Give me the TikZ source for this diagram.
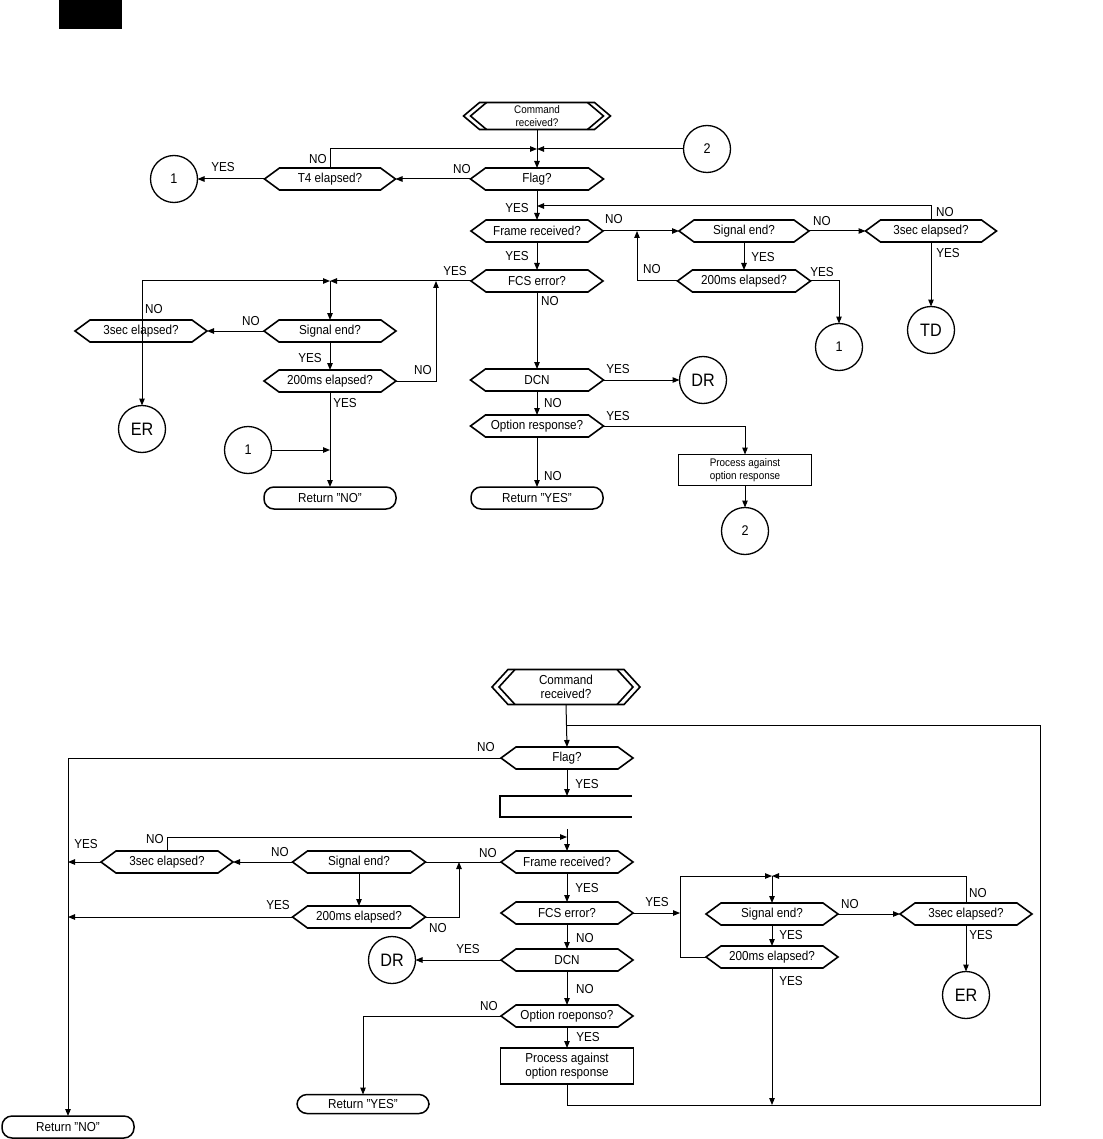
\documentclass[tikz,border=0pt]{standalone}
\usepackage{fontspec}
\setmainfont{Liberation Sans}[FakeStretch=0.9]
\usetikzlibrary{arrows.meta,calc}
\newcommand{\mainf}{\fontsize{13}{14}\selectfont}
\newcommand{\labf}{\fontsize{13}{14}\selectfont}
\newcommand{\smallf}{\fontsize{11}{12.5}\selectfont}
\newcommand{\bigf}{\fontsize{18}{20}\selectfont}
\newcommand{\numf}{\fontsize{14}{16}\selectfont}
\tikzset{
 hexn/.style={draw=none, inner sep=0pt, outer sep=0pt, minimum height=22pt, font=\mainf, align=center},
 shp/.style={line width=1.6pt, line join=miter},
 con/.style={line width=1pt},
 arr/.style={con, -{Triangle[length=7pt,width=5.5pt]}},
 circ/.style={circle, draw, line width=1.3pt, minimum size=47pt, inner sep=0pt, outer sep=0pt, font=\numf},
 lab/.style={font=\labf, inner sep=0pt},
 ret/.style={draw, rounded corners=10pt, line width=1.5pt, minimum width=132pt, minimum height=22pt, inner sep=0pt, outer sep=0pt, font=\mainf},
 proc/.style={draw, line width=1.6pt, inner sep=0pt, outer sep=0pt, align=center}
}
\newcommand{\hexbox}[5][15pt]{%
  \node[hexn,minimum width=#4] (#2) at (#3) {#5};
  \draw[shp] (#2.west) -- ([xshift=#1]#2.north west) -- ([xshift=-#1]#2.north east) -- (#2.east) -- ([xshift=-#1]#2.south east) -- ([xshift=#1]#2.south west) -- cycle;}
\newcommand{\dhex}[6][]{%
  \node[hexn,minimum width=#4,minimum height=#5,#1] (#2) at (#3) {#6};
  \draw[shp] (#2.west) -- ([xshift=16pt]#2.north west) -- ([xshift=-16pt]#2.north east) -- (#2.east) -- ([xshift=-16pt]#2.south east) -- ([xshift=16pt]#2.south west) -- cycle;
  \draw[shp] ([xshift=23pt]#2.north west) -- ([xshift=7pt]#2.west) -- ([xshift=23pt]#2.south west);
  \draw[shp] ([xshift=-23pt]#2.north east) -- ([xshift=-7pt]#2.east) -- ([xshift=-23pt]#2.south east);}
\begin{document}
\begin{tikzpicture}[x=1pt,y=-1pt]
\useasboundingbox (0,0) rectangle (1102,1139);
\fill (59,0) rectangle (122,29);

% ================= TOP CHART =================
\dhex[font=\smallf]{cmdT}{537,116}{147}{27}{Command\\received?}
\hexbox{flagT}{537,179}{133}{Flag?}
\hexbox{tfour}{330,179}{131}{T4 elapsed?}
\hexbox{frameT}{537,231}{132}{Frame received?}
\hexbox{sigR}{744,231}{130}{Signal end?}
\hexbox{secR}{931,231}{131}{3sec elapsed?}
\hexbox{msR}{744,281}{133}{200ms elapsed?}
\hexbox{fcsT}{537,281}{132}{FCS error?}
\hexbox{sigL}{330,331}{132}{Signal end?}
\hexbox{secL}{141,331}{132}{3sec elapsed?}
\hexbox{msL}{330,381}{132}{200ms elapsed?}
\hexbox{dcnT}{537,380}{133}{DCN}
\hexbox{optT}{537,426}{133}{Option response?}
\node[ret] (retNOT) at (330,498) {Return "NO"};
\node[ret] (retYEST) at (537,498) {Return "YES"};
\node[proc, minimum width=133pt, minimum height=31pt, font=\smallf] (procT) at (745,470) {Process against\\option response};

\node[circ] (oneA) at (174,179) {1};
\node[circ] (twoA) at (707,149) {2};
\node[circ] (oneB) at (839,347) {1};
\node[circ,font=\bigf] (tdT) at (931,330) {TD};
\node[circ,font=\bigf] (erT) at (142,429) {ER};
\node[circ] (oneC) at (248,450) {1};
\node[circ,font=\bigf] (drT) at (703,380) {DR};
\node[circ] (twoB) at (745,531) {2};

\coordinate (jT) at (537,149);
\coordinate (jT2) at (537,206);
\coordinate (jT3) at (637,231);
\coordinate (jL) at (330,281);
\coordinate (jL2) at (436,281);
\coordinate (cTL) at (142,281);
\coordinate (jC) at (330,450);

\draw[arr] (cmdT.south) -- (flagT.north);
\draw[arr] (tfour.north) |- (jT);
\draw[arr] (twoA.west) -- (jT);
\draw[arr] (flagT.west) -- (tfour.east);
\draw[arr] (tfour.west) -- (oneA.east);
\draw[arr] (flagT.south) -- (frameT.north);
\draw[arr] (secR.north) |- (jT2);
\draw[arr] (frameT.east) -- (sigR.west);
\draw[arr] (msR.west) -| (jT3);
\draw[arr] (sigR.east) -- (secR.west);
\draw[arr] (secR.south) -- (tdT.north);
\draw[arr] (sigR.south) -- (msR.north);
\draw[arr] (msR.east) -| (oneB.north);
\draw[arr] (frameT.south) -- (fcsT.north);
\draw[arr] (fcsT.west) -- (jL);
\draw[arr] (msL.east) -| (jL2);
\draw[arr] (cTL) -- (jL);
\draw[arr] (cTL) -- (erT.north);
\draw[arr] (jL) -- (sigL.north);
\draw[arr] (sigL.west) -- (secL.east);
\draw[arr] (sigL.south) -- (msL.north);
\draw[arr] (msL.south) -- (retNOT.north);
\draw[arr] (oneC.east) -- (jC);
\draw[arr] (fcsT.south) -- (dcnT.north);
\draw[arr] (dcnT.east) -- (drT.west);
\draw[arr] (dcnT.south) -- (optT.north);
\draw[arr] (optT.east) -| (procT.north);
\draw[arr] (procT.south) -- (twoB.north);
\draw[arr] (optT.south) -- (retYEST.north);

\node[lab] (t1) at (462,169) {NO};
\node[lab] (t2) at (223,167) {YES};
\node[lab] (t3) at (318,159) {NO};
\node[lab] (t4) at (517,208) {YES};
\node[lab] (t5) at (614,219) {NO};
\node[lab] (t6) at (822,221) {NO};
\node[lab] (t7) at (945,212) {NO};
\node[lab] (t8) at (948,253) {YES};
\node[lab] (t9) at (763,257) {YES};
\node[lab] (t10) at (652,269) {NO};
\node[lab] (t11) at (822,272) {YES};
\node[lab] (t12) at (517,256) {YES};
\node[lab] (t13) at (455,271) {YES};
\node[lab] (t14) at (154,309) {NO};
\node[lab] (t15) at (251,321) {NO};
\node[lab] (t16) at (310,358) {YES};
\node[lab] (t17) at (423,370) {NO};
\node[lab] (t18) at (345,403) {YES};
\node[lab] (t19) at (550,301) {NO};
\node[lab] (t20) at (618,369) {YES};
\node[lab] (t21) at (553,403) {NO};
\node[lab] (t22) at (618,416) {YES};
\node[lab] (t23) at (553,476) {NO};

% ================= BOTTOM CHART =================
\dhex{cmdB}{566,687}{148}{35}{Command\\received?}
\hexbox{flagB}{567,758}{132}{Flag?}
\draw[shp] (632,796) -- (500,796) -- (500,817) -- (632,817);
\coordinate (openT) at (567,796);
\hexbox{frameB}{567,862}{132}{Frame received?}
\hexbox{sigBL}{359,862}{133}{Signal end?}
\hexbox{secBL}{167,862}{132}{3sec elapsed?}
\hexbox{msBL}{359,917}{133}{200ms elapsed?}
\hexbox{fcsB}{567,913}{132}{FCS error?}
\hexbox{sigBR}{772,914}{132}{Signal end?}
\hexbox{secBR}{966,914}{132}{3sec elapsed?}
\hexbox{msBR}{772,957}{132}{200ms elapsed?}
\hexbox{dcnB}{567,960}{132}{DCN}
\hexbox{optB}{567,1016}{132}{Option roeponso?}
\node[proc, minimum width=133pt, minimum height=36pt, font=\mainf] (procB) at (567,1066) {Process against\\option response};
\node[ret, minimum height=19pt] (retYESB) at (363,1104) {Return "YES"};
\node[ret] (retNOB) at (68,1127) {Return "NO"};
\node[circ,font=\bigf] (drB) at (392,960) {DR};
\node[circ,font=\bigf] (erB) at (966,995) {ER};

\coordinate (jB0) at (567,725);
\coordinate (cR1) at (1040,1105);
\coordinate (cR2) at (1040,725);
\coordinate (jB1) at (567,837);
\coordinate (jB1t) at (567,829);
\coordinate (jB2) at (459,862);
\coordinate (jB3) at (680,913);
\coordinate (bk1) at (680,876);
\coordinate (jB4) at (772,876);
\coordinate (jB5) at (772,1105);

\draw[arr] (cmdB.south) -- (flagB.north);
\draw[con] (procB.south) |- (cR1) -- (cR2) -- (jB0);
\draw[arr] (flagB.west) -| (retNOB.north);
\draw[arr] (flagB.south) -- (openT);
\draw[arr] (jB1t) -- (frameB.north);
\draw[arr] (secBL.north) |- (jB1);
\draw[con] (frameB.west) -- (sigBL.east);
\draw[arr] (msBL.east) -| (jB2);
\draw[arr] (sigBL.west) -- (secBL.east);
\draw[arr] (secBL.west) -- (secBL.west -| retNOB.north);
\draw[arr] (sigBL.south) -- (msBL.north);
\draw[arr] (msBL.west) -- (msBL.west -| retNOB.north);
\draw[arr] (frameB.south) -- (fcsB.north);
\draw[arr] (fcsB.east) -- (jB3);
\draw[arr] (msBR.west) -| (bk1) -- (jB4);
\draw[arr] (secBR.north) |- (jB4);
\draw[arr] (jB4) -- (sigBR.north);
\draw[arr] (sigBR.east) -- (secBR.west);
\draw[arr] (secBR.south) -- (erB.north);
\draw[arr] (sigBR.south) -- (msBR.north);
\draw[arr] (msBR.south) -- (jB5);
\draw[arr] (fcsB.south) -- (dcnB.north);
\draw[arr] (dcnB.west) -- (drB.east);
\draw[arr] (dcnB.south) -- (optB.north);
\draw[arr] (optB.west) -| (retYESB.north);
\draw[arr] (optB.south) -- (procB.north);

\node[lab] (b1) at (486,747) {NO};
\node[lab] (b2) at (587,784) {YES};
\node[lab] (b3) at (155,839) {NO};
\node[lab] (b4) at (86,844) {YES};
\node[lab] (b5) at (280,852) {NO};
\node[lab] (b6) at (488,853) {NO};
\node[lab] (b7) at (278,905) {YES};
\node[lab] (b8) at (438,928) {NO};
\node[lab] (b9) at (587,888) {YES};
\node[lab] (b10) at (657,902) {YES};
\node[lab] (b11) at (850,904) {NO};
\node[lab] (b12) at (978,893) {NO};
\node[lab] (b13) at (981,935) {YES};
\node[lab] (b14) at (791,935) {YES};
\node[lab] (b15) at (791,981) {YES};
\node[lab] (b16) at (585,938) {NO};
\node[lab] (b17) at (468,949) {YES};
\node[lab] (b18) at (585,989) {NO};
\node[lab] (b19) at (489,1006) {NO};
\node[lab] (b20) at (588,1037) {YES};
\end{tikzpicture}
\end{document}
